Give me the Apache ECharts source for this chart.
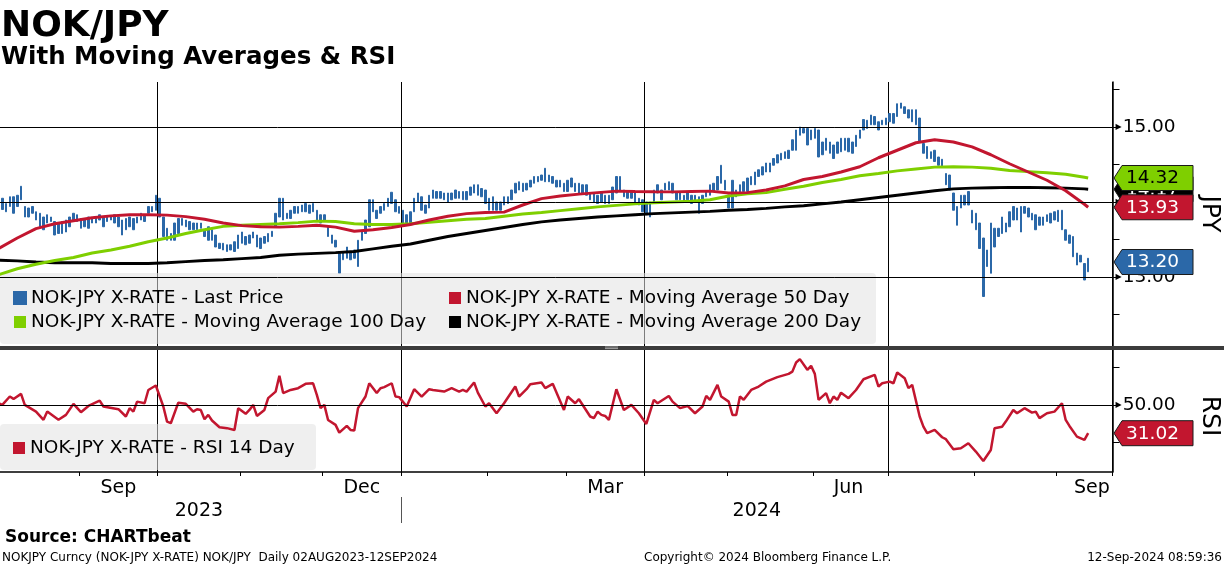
<!DOCTYPE html>
<html><head><meta charset="utf-8">
<script src="https://cdn.jsdelivr.net/npm/echarts@6/dist/echarts.min.js"></script>
<style>html,body{margin:0;padding:0;background:#fff}#c{width:1224px;height:566px}</style>
</head><body><div id="c"></div>
<script>
// ---------- categories: trading days (weekdays) 02AUG2023 .. axis end ----------
const firstDay = '2023-08-02';
const axisLastDay = '2024-09-20';
function buildTradingDays(s, e) {
  const out = []; let d = new Date(s + 'T00:00:00Z'); const end = new Date(e + 'T00:00:00Z');
  while (d <= end) { const w = d.getUTCDay(); if (w !== 0 && w !== 6) out.push(d.toISOString().slice(0, 10)); d = new Date(d.getTime() + 86400000); }
  return out;
}
const tradingDays = buildTradingDays(firstDay, axisLastDay);

// ---------- NOK/JPY daily bars (low / high), one per trading day ----------
const priceLow = [
13.92,13.90,13.87,13.94,13.85,13.94,14.03,13.80,13.80,13.85,
13.76,13.67,13.63,13.72,13.74,13.56,13.58,13.58,13.60,13.67,
13.74,13.74,13.65,13.67,13.65,13.72,13.72,13.76,13.67,13.74,
13.76,13.72,13.67,13.56,13.63,13.67,13.63,13.72,13.76,13.74,
13.85,13.87,13.89,13.80,13.54,13.49,13.49,13.49,13.58,13.69,
13.67,13.63,13.63,13.63,13.65,13.54,13.49,13.49,13.40,13.38,
13.36,13.34,13.36,13.34,13.38,13.45,13.43,13.45,13.52,13.40,
13.38,13.45,13.47,13.54,13.67,13.80,13.76,13.78,13.78,13.85,
13.85,13.87,13.87,13.85,13.87,13.76,13.72,13.76,13.54,13.45,
13.40,13.05,13.23,13.25,13.23,13.25,13.14,13.49,13.58,13.67,
13.87,13.78,13.85,13.89,13.94,13.98,13.87,13.85,13.72,13.72,
13.72,13.87,14.00,13.89,13.85,13.92,14.05,14.05,14.05,14.03,
14.00,14.03,14.05,14.05,14.03,14.03,14.09,14.12,14.09,14.07,
13.98,13.89,13.89,13.89,13.89,13.96,13.98,14.03,14.12,14.16,
14.14,14.16,14.20,14.25,14.27,14.29,14.27,14.27,14.25,14.20,
14.20,14.14,14.14,14.20,14.14,14.12,14.12,14.09,14.03,14.00,
13.98,14.00,13.98,13.98,14.03,14.12,14.16,14.07,14.05,14.05,
14.00,13.96,13.87,13.83,13.80,14.00,14.12,14.03,14.16,14.16,
14.12,14.03,14.03,14.00,14.03,13.98,14.00,13.85,13.98,14.07,
14.09,14.14,14.16,14.25,14.16,13.92,13.92,14.07,14.12,14.14,
14.14,14.23,14.23,14.34,14.36,14.40,14.40,14.49,14.52,14.56,
14.58,14.58,14.69,14.69,14.89,14.92,14.76,14.83,14.85,14.60,
14.63,14.69,14.65,14.58,14.65,14.67,14.69,14.67,14.65,14.74,
14.85,14.96,14.98,15.03,15.03,14.96,15.03,15.03,15.07,15.05,
15.14,15.25,15.18,15.12,15.07,15.03,14.80,14.65,14.58,14.58,
14.54,14.49,14.47,14.23,14.16,13.89,13.69,13.92,13.96,13.96,
13.72,13.63,13.38,12.74,13.14,13.05,13.40,13.54,13.58,13.60,
13.67,13.76,13.76,13.60,13.85,13.80,13.76,13.63,13.69,13.69,
13.74,13.72,13.76,13.74,13.63,13.49,13.45,13.27,13.16,13.20,
12.96,13.07];
const priceHigh = [
14.09,14.05,13.98,14.07,14.07,14.09,14.21,13.94,13.92,13.94,
13.87,13.85,13.80,13.83,13.80,13.74,13.72,13.74,13.76,13.80,
13.85,13.83,13.78,13.76,13.80,13.78,13.80,13.83,13.80,13.80,
13.80,13.83,13.80,13.76,13.78,13.80,13.78,13.80,13.85,13.83,
13.94,13.94,14.09,14.05,13.80,13.65,13.58,13.72,13.78,13.78,
13.76,13.74,13.72,13.72,13.72,13.63,13.67,13.63,13.56,13.45,
13.45,13.43,13.43,13.47,13.56,13.60,13.54,13.56,13.60,13.56,
13.52,13.54,13.58,13.61,13.85,14.05,14.05,13.85,13.89,13.94,
13.94,13.96,13.98,13.96,13.98,13.89,13.83,13.83,13.67,13.56,
13.49,13.34,13.34,13.40,13.34,13.36,13.49,13.60,13.76,14.03,
14.03,13.89,13.94,13.98,14.05,14.13,14.03,13.94,13.89,13.83,
13.87,14.05,14.12,14.07,13.96,14.09,14.16,14.14,14.14,14.12,
14.12,14.12,14.16,14.14,14.14,14.14,14.20,14.23,14.23,14.18,
14.16,14.05,14.07,14.00,14.00,14.07,14.07,14.16,14.25,14.27,
14.25,14.25,14.29,14.34,14.34,14.36,14.45,14.36,14.34,14.29,
14.29,14.25,14.29,14.32,14.25,14.25,14.23,14.23,14.12,14.12,
14.09,14.12,14.09,14.09,14.20,14.34,14.34,14.16,14.14,14.14,
14.12,14.05,14.03,14.00,14.00,14.16,14.23,14.16,14.25,14.27,
14.25,14.14,14.12,14.09,14.12,14.09,14.09,14.07,14.09,14.14,
14.23,14.25,14.34,14.49,14.29,14.09,14.29,14.16,14.23,14.27,
14.32,14.34,14.40,14.43,14.47,14.52,14.52,14.58,14.63,14.65,
14.67,14.69,14.83,14.96,15.00,14.98,14.98,14.96,14.98,14.96,
14.80,14.85,14.80,14.76,14.80,14.85,14.85,14.85,14.80,14.89,
14.96,15.10,15.09,15.16,15.14,15.07,15.09,15.12,15.18,15.18,
15.31,15.32,15.27,15.23,15.23,15.23,15.12,14.78,14.74,14.67,
14.69,14.60,14.57,14.38,14.36,14.12,13.94,14.09,14.09,14.14,
13.89,13.85,13.72,13.52,13.36,13.72,13.65,13.65,13.80,13.72,
13.87,13.94,13.92,13.94,13.94,13.92,13.85,13.83,13.80,13.80,
13.83,13.85,13.87,13.89,13.89,13.63,13.56,13.54,13.32,13.29,
13.18,13.25];
const lastPrice = 13.20;

// ---------- moving averages, read weekly (trading-day number from 02AUG2023) ----------
const maDay = [0,5,10,15,20,25,30,35,40,45,50,55,60,65,70,75,80,85,90,95,100,105,110,115,120,125,130,135,140,145,
  150,155,160,165,170,175,180,185,190,195,200,205,210,215,220,225,230,235,240,245,250,255,260,265,270,275,280,285,290,291];
const ma50 = [13.38,13.52,13.645,13.71,13.75,13.79,13.815,13.83,13.83,13.825,13.805,13.77,13.72,13.685,13.67,13.665,13.675,13.69,13.665,13.61,
  13.63,13.66,13.70,13.76,13.81,13.845,13.86,13.865,13.96,14.045,14.08,14.105,14.125,14.145,14.14,14.137,14.135,14.14,14.145,14.12,
  14.125,14.16,14.215,14.30,14.34,14.40,14.47,14.59,14.69,14.79,14.83,14.80,14.735,14.63,14.51,14.40,14.29,14.15,13.97,13.93];
const ma100 = [13.03,13.11,13.17,13.22,13.26,13.32,13.36,13.41,13.47,13.52,13.58,13.63,13.675,13.69,13.70,13.71,13.725,13.745,13.74,13.71,
  13.70,13.70,13.71,13.73,13.75,13.77,13.78,13.81,13.84,13.86,13.885,13.91,13.935,13.955,13.975,13.99,14.00,14.01,14.03,14.08,
  14.11,14.125,14.17,14.21,14.26,14.30,14.35,14.38,14.415,14.44,14.465,14.47,14.465,14.45,14.42,14.405,14.39,14.37,14.33,14.32];
const ma200 = [13.225,13.215,13.20,13.19,13.19,13.19,13.18,13.18,13.18,13.19,13.205,13.22,13.23,13.245,13.26,13.29,13.305,13.315,13.325,13.34,
  13.375,13.41,13.44,13.49,13.54,13.58,13.62,13.66,13.70,13.735,13.76,13.78,13.80,13.815,13.83,13.845,13.855,13.865,13.875,13.89,
  13.90,13.915,13.935,13.95,13.975,14.00,14.03,14.06,14.09,14.12,14.15,14.175,14.185,14.19,14.195,14.195,14.19,14.185,14.175,14.17];

// ---------- RSI 14 day (trading-day number, value) ----------
const rsiDay = [0,1,3,4,6,7,10,12,13,16,18,20,22,24,27,28,32,34,35,36,37,39,40,42,44,45,46,48,50,52,
  53,54,55,56,57,59,61,63,64,66,67,68,69,71,72,74,75,76,78,80,82,84,85,86,87,88,90,91,93,94,
  95,96,98,99,101,102,103,105,106,107,109,111,113,115,116,119,121,123,124,125,127,128,130,131,133,135,138,139,141,142,
  145,146,148,151,152,154,155,158,159,160,161,162,163,165,167,169,171,173,175,176,179,180,182,184,186,188,189,190,192,193,
  195,196,197,198,199,201,203,205,208,211,212,213,214,216,217,218,219,221,222,223,224,225,227,229,231,234,235,236,238,239,
  240,242,243,244,246,247,248,250,252,253,255,257,259,261,263,265,266,268,269,271,272,274,276,277,278,280,282,284,285,286,
  288,290,291];
const rsi14 = [51,50,55.6,54,57.4,50,45.5,40,45.5,40,43.3,50.7,45.1,49.3,52.9,48.9,47.1,42.2,47.8,45.5,
  52.2,51.1,60,63,48.9,38.8,37.7,51.5,50.7,45.5,47.1,46.6,40.4,43.3,39.5,35,34.4,33.2,47.8,44,
  46.6,50,42.6,46.6,54.5,58.9,69.5,57.9,60,61.2,64.1,64.5,56.7,47.8,50,39.9,36.6,31.4,35.9,33.2,
  32.8,47.8,55.6,64.5,57.9,61.2,61.9,64.5,55.6,55.2,48.9,60.5,55.6,60.5,60,58.9,61.2,58.9,60,58.9,
  65,58.2,48.9,51.1,44.4,51.1,62.3,55.6,60.5,63.9,65,61.2,64.1,46.6,55.6,51.1,53.8,42.2,41.1,45.5,
  43.3,42.6,39.9,60.5,46.6,50,44.4,37.2,53.4,51.1,56,52.2,47.8,49.3,44.4,48.9,56,53.4,63.4,55.6,
  52.2,43.3,43.3,55.6,53.4,60,62.3,65.6,68.6,70.8,72.3,78.4,80.7,73.5,76.2,70.8,53.4,57.9,51.1,55.6,
  53.4,58.2,54.5,60,67.2,70.1,62.3,64.5,65.6,64.5,71.7,67.9,61.2,63.4,42.2,35.4,31,33.2,28.3,27,
  20.3,20.9,24.3,18.7,12.4,19.8,34.4,35.4,38.8,46.6,44.4,47.8,44.8,45.5,41.1,44.4,45.5,51.1,39.9,35.9,
  28.7,26.5,31.02];

// ---------- axis labels / ticks ----------
const monthLabelDates = ['2023-09-15','2023-12-15','2024-03-15','2024-06-14','2024-09-13'];
const monthLabelText = ['Sep','Dec','Mar','Jun','Sep'];
const priceTickValues = [12.5,13,13.5,14,14.5,15,15.5];
const priceLabelValues = [13,14,15];
const priceGridValues = [13,14,15];
const rsiTickValues = [25,50,75];
const rsiLabelValues = [50];
const rsiGridValues = [50];

const seriesNames = ['NOK-JPY X-RATE - Last Price','NOK-JPY X-RATE - Moving Average 50 Day',
  'NOK-JPY X-RATE - Moving Average 100 Day','NOK-JPY X-RATE - Moving Average 200 Day','NOK-JPY X-RATE - RSI 14 Day'];

// ---------- styles ----------
const BLUE = '#2b68a8', RED = '#c2162f', GREEN = '#7fcf00', BLACK = '#000000';
const FONT = '"DejaVu Sans", Verdana, sans-serif';

const monthOf = i => tradingDays[i].slice(5, 7);
const yearOf = i => tradingDays[i].slice(0, 4);
const isMonthStart = i => i > 0 && monthOf(i) !== monthOf(i - 1);
const isQuarterStart = i => isMonthStart(i) && ['01','04','07','10'].includes(monthOf(i));

// year row: boundary positions (in trading-day units) and label positions at the centre of each year's span
const yearStarts = [];
for (let i = 1; i < tradingDays.length; i++) if (yearOf(i) !== yearOf(i - 1)) yearStarts.push(i);
const yearEdges = [0].concat(yearStarts, [tradingDays.length]);
const yearLabelPos = [];
for (let k = 0; k < yearEdges.length - 1; k++) yearLabelPos.push((yearEdges[k] + yearEdges[k + 1]) / 2);

const gridL = -3.3, gridR = 111.5;

const yLabel = v => '{a|\u25B6}{v|' + v.toFixed(2) + '}';
const yRich = { a: { fontSize: 8, color: '#000', padding: [0, 1, 0, 0] }, v: { fontSize: 18.5, fontFamily: FONT, color: '#000' } };

const option = {
  animation: false,
  backgroundColor: '#ffffff',
  textStyle: { fontFamily: FONT },
  grid: [
    { left: gridL, right: gridR, top: 82, height: 264, outerBoundsMode: 'none' },
    { left: gridL, right: gridR, top: 350, height: 122, outerBoundsMode: 'none' }
  ],
  xAxis: [
    { type: 'category', gridIndex: 0, data: tradingDays, boundaryGap: true,
      axisLine: { show: false }, axisTick: { show: false }, axisLabel: { show: false },
      splitLine: { show: true, interval: (i) => isQuarterStart(i), lineStyle: { color: '#000', width: 1 } } },
    { type: 'category', gridIndex: 1, data: tradingDays, boundaryGap: true,
      axisLine: { show: true, onZero: false, lineStyle: { color: '#000', width: 1.5 } },
      axisTick: { show: true, interval: (i) => isMonthStart(i), length: 4, lineStyle: { color: '#000', width: 1 } },
      axisLabel: { show: true, interval: (i, v) => monthLabelDates.includes(v),
        formatter: (v) => monthLabelText[monthLabelDates.indexOf(v)] || '', margin: 7, fontSize: 19, color: '#000', fontFamily: FONT },
      splitLine: { show: true, interval: (i) => isQuarterStart(i), lineStyle: { color: '#000', width: 1 } } },
    { type: 'value', gridIndex: 1, position: 'bottom', offset: 25, min: 0, max: tradingDays.length,
      axisLine: { show: false, onZero: false },
      axisTick: { show: true, customValues: yearStarts, length: 26, lineStyle: { color: '#555', width: 1 } },
      axisLabel: { show: true, customValues: yearLabelPos, formatter: (v) => yearOf(Math.floor(v)),
        margin: 5, fontSize: 19, color: '#000', fontFamily: FONT },
      splitLine: { show: false } }
  ],
  yAxis: [
    { type: 'value', gridIndex: 0, position: 'right', min: 12.08, max: 15.6, scale: true,
      axisLine: { show: true, onZero: false, lineStyle: { color: '#000', width: 1.5 } },
      axisTick: { show: true, customValues: priceTickValues, length: 7, lineStyle: { color: '#000', width: 1 } },
      axisLabel: { show: true, customValues: priceLabelValues, formatter: yLabel, rich: yRich, margin: 3 },
      splitLine: { show: false } },
    { type: 'value', gridIndex: 1, position: 'right', min: 5, max: 86.8, scale: true,
      axisLine: { show: true, onZero: false, lineStyle: { color: '#000', width: 1.5 } },
      axisTick: { show: true, customValues: rsiTickValues, length: 7, lineStyle: { color: '#000', width: 1 } },
      axisLabel: { show: true, customValues: rsiLabelValues, formatter: yLabel, rich: yRich, margin: 3 },
      splitLine: { show: false } }
  ],
  legend: [
    { data: [{ name: seriesNames[0], itemStyle: { color: BLUE } }, { name: seriesNames[2], itemStyle: { color: GREEN } }],
      orient: 'vertical', left: 13, top: 288, itemWidth: 12, itemHeight: 12, itemGap: 4, icon: 'rect', padding: 0,
      selectedMode: false, z: 10, textStyle: { fontSize: 18.5, fontFamily: FONT, color: '#000', lineHeight: 20 } },
    { data: [{ name: seriesNames[1], itemStyle: { color: RED } }, { name: seriesNames[3], itemStyle: { color: BLACK } }],
      orient: 'vertical', left: 449, top: 288, itemWidth: 12, itemHeight: 12, itemGap: 4, icon: 'rect', padding: 0,
      selectedMode: false, z: 10, textStyle: { fontSize: 18.5, fontFamily: FONT, color: '#000', lineHeight: 20 } },
    { data: [{ name: seriesNames[4], itemStyle: { color: RED } }],
      orient: 'vertical', left: 13, top: 438, itemWidth: 12, itemHeight: 12, itemGap: 4, icon: 'rect', padding: 0,
      selectedMode: false, z: 10, textStyle: { fontSize: 18.5, fontFamily: FONT, color: '#000', lineHeight: 20 } }
  ],
  series: [
    { name: seriesNames[0], type: 'candlestick', xAxisIndex: 0, yAxisIndex: 0, barWidth: 2,
      data: priceLow.map((lo, i) => [lo, priceHigh[i], lo, priceHigh[i]]),
      itemStyle: { color: BLUE, color0: BLUE, borderColor: BLUE, borderColor0: BLUE, borderWidth: 1 },
      emphasis: { disabled: true },
      markLine: { silent: true, symbol: ['none', 'none'], label: { show: false }, emphasis: { disabled: true },
        lineStyle: { color: '#000', width: 1, type: 'solid' }, data: priceGridValues.map(v => ({ yAxis: v })) } },
    { name: seriesNames[3], type: 'line', xAxisIndex: 0, yAxisIndex: 0, showSymbol: false,
      data: maDay.map((d, i) => [d, ma200[i]]), lineStyle: { color: BLACK, width: 3 }, itemStyle: { color: BLACK } },
    { name: seriesNames[2], type: 'line', xAxisIndex: 0, yAxisIndex: 0, showSymbol: false,
      data: maDay.map((d, i) => [d, ma100[i]]), lineStyle: { color: GREEN, width: 3 }, itemStyle: { color: GREEN } },
    { name: seriesNames[1], type: 'line', xAxisIndex: 0, yAxisIndex: 0, showSymbol: false,
      data: maDay.map((d, i) => [d, ma50[i]]), lineStyle: { color: RED, width: 3 }, itemStyle: { color: RED } },
    { name: seriesNames[4], type: 'line', xAxisIndex: 1, yAxisIndex: 1, showSymbol: false,
      data: rsiDay.map((d, i) => [d, rsi14[i]]), lineStyle: { color: RED, width: 2.5 }, itemStyle: { color: RED },
      markLine: { silent: true, symbol: ['none', 'none'], label: { show: false }, emphasis: { disabled: true },
        lineStyle: { color: '#000', width: 1, type: 'solid' }, data: rsiGridValues.map(v => ({ yAxis: v })) } }
  ]
};

const chart = echarts.init(document.getElementById('c'), null, { renderer: 'canvas', width: 1224, height: 566 });
chart.setOption(option);

function txt(text, x, y, font, extra) {
  return Object.assign({ type: 'text', z: 30, style: { text: text, x: x, y: y, font: font, fill: '#000',
    textVerticalAlign: 'middle', verticalAlign: 'middle', textAlign: 'left', align: 'left' } }, extra || {});
}
function tag(yAxisIndex, value, fill, textColor, z) {
  const y = chart.convertToPixel({ yAxisIndex: yAxisIndex }, value);
  return { type: 'group', x: 0, y: y, z: z, children: [
    { type: 'polygon', z: z, shape: { points: [[1114, 0], [1122, -12.5], [1193, -12.5], [1193, 12.5], [1122, 12.5]] },
      style: { fill: fill, stroke: '#1a1a1a', lineWidth: 1 } },
    { type: 'text', z: z + 1, style: { text: value.toFixed(2), x: 1126, y: 0.5, fill: textColor, font: '18.5px ' + FONT,
      textVerticalAlign: 'middle', verticalAlign: 'middle' } }
  ] };
}

const graphics = [
  { type: 'rect', z: 3, shape: { x: 0, y: 273, width: 876, height: 71, r: 4 }, style: { fill: 'rgba(226,226,226,0.55)' } },
  { type: 'rect', z: 3, shape: { x: 0, y: 424, width: 316, height: 46, r: 4 }, style: { fill: 'rgba(226,226,226,0.55)' } },
  { type: 'rect', z: 8, shape: { x: 0, y: 346, width: 1224, height: 4 }, style: { fill: '#3c3c3c' } },
  { type: 'line', z: 9, shape: { x1: 605, y1: 347, x2: 618, y2: 347 }, style: { stroke: '#bbbbbb', lineWidth: 0.8 } },
  { type: 'line', z: 9, shape: { x1: 605, y1: 348.6, x2: 618, y2: 348.6 }, style: { stroke: '#bbbbbb', lineWidth: 0.8 } },
  txt('NOK/JPY', 1, 27, 'bold 36px ' + FONT),
  txt('With Moving Averages & RSI', 1, 58, 'bold 24.5px ' + FONT),
  txt('Source: CHARTbeat', 5, 538, 'bold 17px ' + FONT),
  txt('NOKJPY Curncy (NOK-JPY X-RATE) NOK/JPY  Daily 02AUG2023-12SEP2024', 2, 558, '12px ' + FONT),
  txt('Copyright\u00A9 2024 Bloomberg Finance L.P.', 644, 558, '12px ' + FONT),
  { type: 'text', z: 30, style: { text: '12-Sep-2024 08:59:36', x: 1222, y: 558, font: '12px ' + FONT, fill: '#000',
      textAlign: 'right', align: 'right', textVerticalAlign: 'middle', verticalAlign: 'middle' } },
  { type: 'text', z: 30, x: 1209, y: 214, rotation: -Math.PI / 2, style: { text: 'JPY', x: 0, y: 0, font: '25px ' + FONT, fill: '#000',
      textAlign: 'center', align: 'center', textVerticalAlign: 'middle', verticalAlign: 'middle' } },
  { type: 'text', z: 30, x: 1209, y: 416, rotation: -Math.PI / 2, style: { text: 'RSI', x: 0, y: 0, font: '25px ' + FONT, fill: '#000',
      textAlign: 'center', align: 'center', textVerticalAlign: 'middle', verticalAlign: 'middle' } },
  tag(0, ma200[ma200.length - 1], BLACK, '#ffffff', 40),
  tag(0, ma100[ma100.length - 1], GREEN, '#000000', 42),
  tag(0, ma50[ma50.length - 1], RED, '#ffffff', 44),
  tag(0, lastPrice, BLUE, '#ffffff', 46),
  tag(1, rsi14[rsi14.length - 1], RED, '#ffffff', 48)
];
chart.setOption({ graphic: graphics });
</script>
</body></html>
